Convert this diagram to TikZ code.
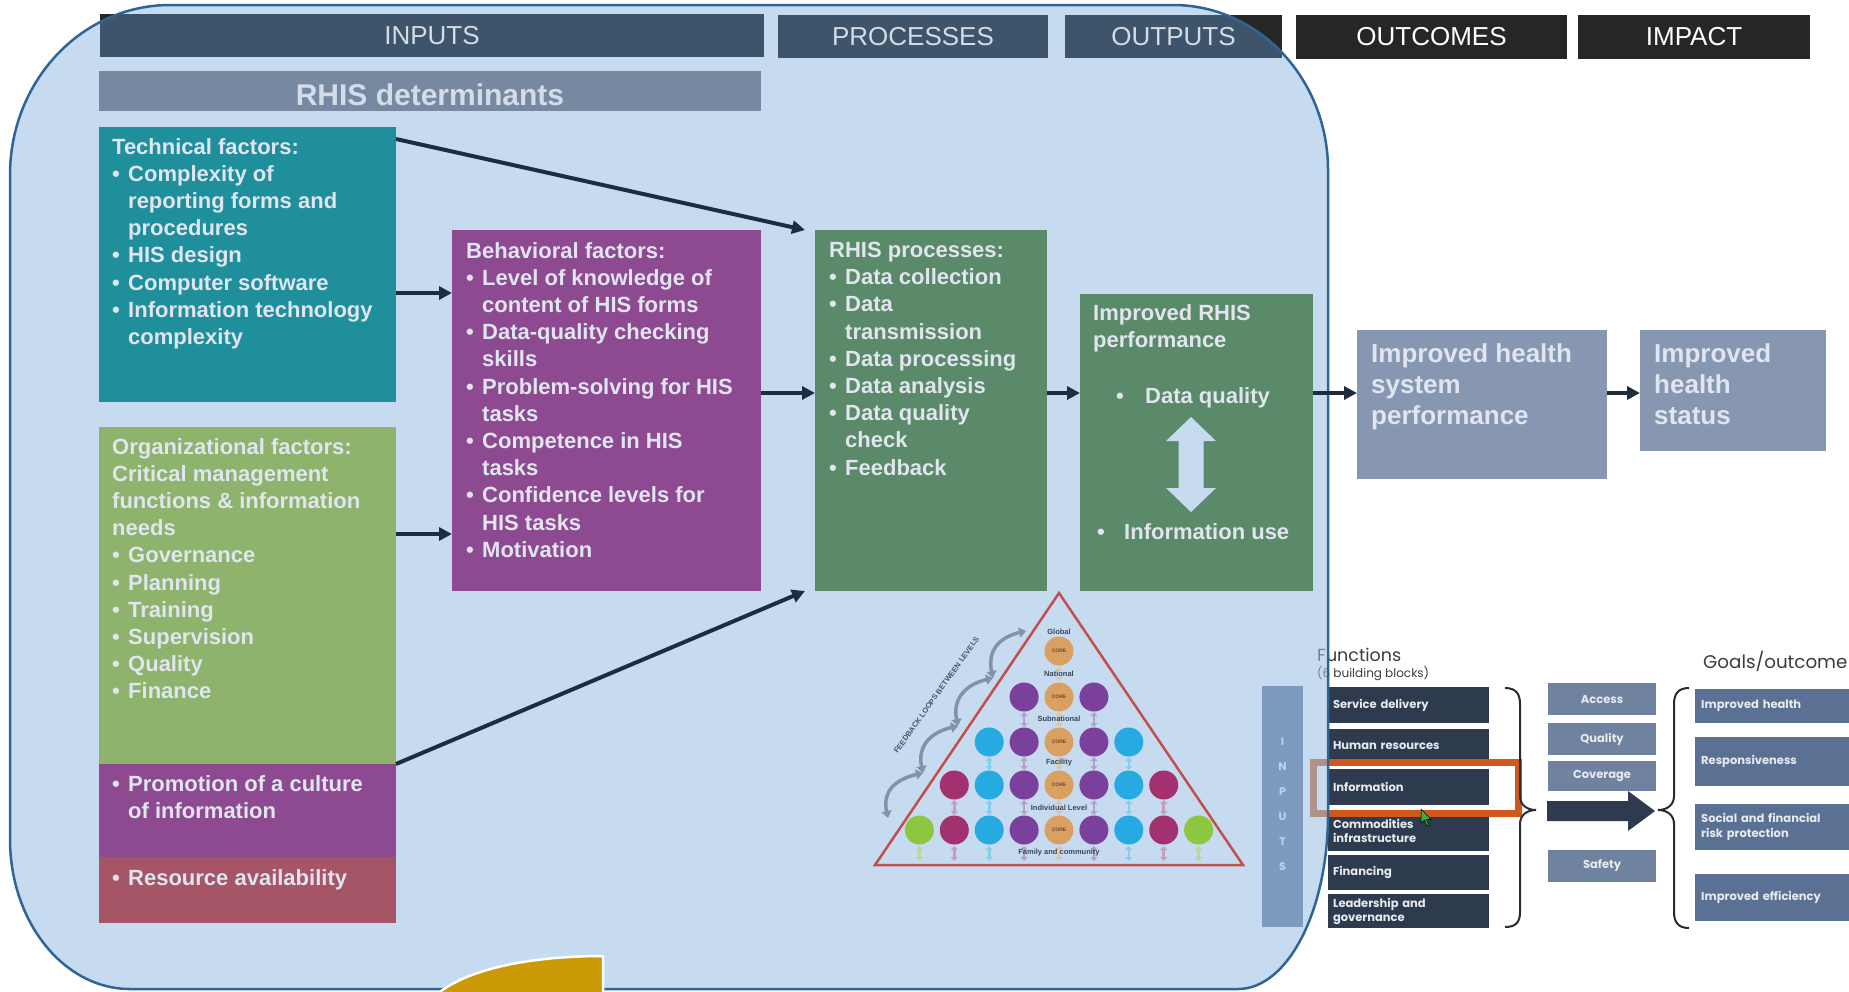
\documentclass[tikz,border=0pt]{standalone}
\usepackage{fontspec}
\setmainfont{Liberation Sans}
\newfontfamily\gothic{Poppins}
\usetikzlibrary{arrows.meta}

\definecolor{tintblue}{HTML}{99BFE4}
\definecolor{frameedge}{HTML}{2F6497}
\definecolor{hdrslate}{HTML}{3E546A}
\definecolor{hdrblack}{HTML}{262626}
\definecolor{hdrtext}{HTML}{D4DBE4}
\definecolor{detbar}{HTML}{7789A1}
\definecolor{detext}{HTML}{D3DDEA}
\definecolor{cTeal}{HTML}{1F8F9C}
\definecolor{cOrg}{HTML}{8DB36C}
\definecolor{cPurple}{HTML}{8E4A91}
\definecolor{cRose}{HTML}{A55566}
\definecolor{cProc}{HTML}{5A8A69}
\definecolor{cOut}{HTML}{8797B1}
\definecolor{boxtext}{HTML}{E0E5F0}
\definecolor{arrnavy}{HTML}{1E2D3E}
\definecolor{paleblue}{HTML}{C6DBEF}
\definecolor{pyrred}{HTML}{C0504D}
\definecolor{pyrlabel}{HTML}{3A4656}
\definecolor{corebrown}{HTML}{6B4A2A}
\definecolor{cCore}{HTML}{D9A062}
\definecolor{cViolet}{HTML}{7B3F9C}
\definecolor{cSky}{HTML}{27A9E1}
\definecolor{cMagenta}{HTML}{A3306F}
\definecolor{cLime}{HTML}{8DC63F}
\definecolor{pCore}{HTML}{E3C49C}
\definecolor{pViolet}{HTML}{B89DCC}
\definecolor{pSky}{HTML}{86CDEE}
\definecolor{pMagenta}{HTML}{C79DBB}
\definecolor{pLime}{HTML}{B7DA92}
\definecolor{loopgray}{HTML}{8193A5}
\definecolor{looptext}{HTML}{4A5560}
\definecolor{gold}{HTML}{CC9A06}
\definecolor{whonavy}{HTML}{2E3A4E}
\definecolor{whomid}{HTML}{6F829F}
\definecolor{whoslate}{HTML}{5B7194}
\definecolor{whotext}{HTML}{E8EAF0}
\definecolor{whodark}{HTML}{3C3C3C}
\definecolor{bracegray}{HTML}{2B2B2B}
\definecolor{hiorange}{HTML}{D0581A}
\definecolor{cursorgreen}{HTML}{3CB043}

\newcommand\itemdot{\makebox[16pt][l]{\textbullet}}
\newcommand\itemgap{\hspace*{16pt}}
% outline of the shaded RHIS frame (y grows downwards)
\newcommand\rhisframe{(10,175) arc[start angle=180,end angle=270,x radius=160,y radius=170]
  -- (1173,5) arc[start angle=270,end angle=360,x radius=155,y radius=165]
  -- (1328,814) arc[start angle=0,end angle=90,x radius=90,y radius=175]
  -- (130,989) arc[start angle=90,end angle=180,x radius=120,y radius=150] -- cycle}

\begin{document}
\begin{tikzpicture}[x=1pt,y=-1pt,
  box/.style={anchor=north west, inner sep=0pt, outer sep=0pt, draw=none},
  txt/.style={anchor=north west, inner sep=0pt, align=left, text=boxtext,
    font=\fontsize{22}{27.2}\selectfont\bfseries},
  bigtxt/.style={anchor=north west, inner sep=0pt, align=left, text=boxtext,
    font=\fontsize{26}{31}\selectfont\bfseries},
  hdr/.style={inner sep=0pt, outer sep=0pt, font=\fontsize{26}{30}\selectfont},
  arr/.style={draw=arrnavy, line width=4pt, -{Triangle[length=13pt,width=13pt]}},
  parr/.style={line width=2.6pt, {Triangle[length=4pt,width=7pt]}-{Triangle[length=4pt,width=7pt]}},
  fbloop/.style={draw=loopgray, line width=3.5pt, {Triangle[length=7pt,width=10pt]}-{Triangle[length=7pt,width=10pt]}},
  plabel/.style={inner sep=0.5pt, text=pyrlabel, font=\fontsize{7.5}{8}\selectfont\bfseries},
  fbox/.style={anchor=north west, fill=whonavy, text=whotext, inner xsep=5pt, inner ysep=0pt,
    outer sep=0pt, text width=151pt, align=left, font=\gothic\bfseries\fontsize{11.5}{14}\selectfont},
  abox/.style={fill=whomid, text=whotext, inner sep=0pt, minimum width=108pt,
    font=\gothic\bfseries\fontsize{11.5}{13}\selectfont},
  gbox/.style={anchor=north west, fill=whoslate, text=whotext, inner xsep=6pt, inner ysep=0pt,
    text width=148pt, align=left, font=\gothic\bfseries\fontsize{11.5}{15}\selectfont}]

\useasboundingbox (0,0) rectangle (1849,991);
\fill[white] (0,0) rectangle (1849,991);

% ---------- column headers (dark layer) ----------
\fill[hdrblack] (100,14) rectangle (764,57);
\fill[hdrblack] (778,15) rectangle (1048,58);
\fill[hdrblack] (1065,15) rectangle (1282,58);
\node[hdr, fill=hdrblack, text=white, minimum width=271pt, minimum height=44pt] (hOutcomes) at (1431.5,37) {OUTCOMES};
\node[hdr, fill=hdrblack, text=white, minimum width=232pt, minimum height=44pt] (hImpact) at (1694,37) {IMPACT};

% ---------- health system building blocks ----------
\begin{scope}
\clip (0,0) rectangle (1849,991);
\node[box, fill=whoslate, minimum width=41pt, minimum height=241pt] (wIn) at (1262,686) {};
\node[anchor=north, inner sep=0pt, align=center, text=whotext,
  font=\gothic\bfseries\fontsize{11}{25}\selectfont] (wInT) at (1282.5,738) {I\\N\\P\\U\\T\\S};
\node[anchor=base west, inner sep=0pt, text=whodark, font=\gothic\fontsize{17.5}{18}\selectfont] (wFn) at (1317,661) {Functions};
\node[anchor=base west, inner sep=0pt, text=whodark, font=\gothic\fontsize{12}{12}\selectfont] (wFnSub) at (1317,677) {(6 building blocks)};
\node[anchor=base west, inner sep=0pt, text=whodark, font=\gothic\fontsize{18.3}{20}\selectfont] (wGoal) at (1703,668) {Goals/outcome};

\node[fbox, minimum height=36pt] (fServ) at (1328,687) {Service delivery};
\node[fbox, minimum height=33pt] (fHum) at (1328,729) {Human resources};
\node[fbox, minimum height=36pt] (fInf) at (1328,769) {Information};
\node[fbox, minimum height=40pt] (fCom) at (1328,811) {Commodities\\infrastructure};
\node[fbox, minimum height=35pt] (fFin) at (1328,855) {Financing};
\node[fbox, minimum height=34pt] (fLead) at (1328,894) {Leadership and\\governance};

\draw[hiorange, line width=7pt] (1313,762) rectangle (1518,813);
\filldraw[fill=cursorgreen, draw=black, line width=0.5pt] (1421,809) -- (1421,823) -- (1424.5,820)
  -- (1427,826) -- (1429,825) -- (1426.5,819.5) -- (1431,819.5) -- cycle;

\draw[bracegray, line width=2pt] (1505,688) .. controls (1516,688) and (1520,694) .. (1520,704)
  -- (1520,796) .. controls (1520,805) and (1527,810) .. (1536,810)
  .. controls (1527,810) and (1520,815) .. (1520,824)
  -- (1520,912) .. controls (1520,922) and (1516,927) .. (1505,927);

\node[abox, minimum height=32pt] (gAcc) at (1602,699) {Access};
\node[abox, minimum height=32pt] (gQua) at (1602,739) {Quality};
\node[abox, minimum height=30pt] (gCov) at (1602,776) {Coverage};
\node[abox, minimum height=32pt] (gSaf) at (1602,866) {Safety};

\fill[whonavy] (1547,801) -- (1628,801) -- (1628,791) -- (1655,811) -- (1628,831) -- (1628,821) -- (1547,821) -- cycle;

\draw[bracegray, line width=2pt] (1689,688) .. controls (1678,688) and (1674,694) .. (1674,704)
  -- (1674,796) .. controls (1674,805) and (1667,810) .. (1658,810)
  .. controls (1667,810) and (1674,815) .. (1674,824)
  -- (1674,912) .. controls (1674,922) and (1678,928) .. (1689,928);

\node[gbox, minimum height=34pt] (oHealth) at (1695,689) {Improved health};
\node[gbox, minimum height=49pt] (oResp) at (1695,737) {Responsiveness};
\node[gbox, minimum height=46pt] (oRisk) at (1695,804) {Social and financial\\risk protection};
\node[gbox, minimum height=47pt] (oEff) at (1695,874) {Improved efficiency};
\end{scope}

% ---------- shaded RHIS frame ----------
\fill[tintblue, fill opacity=0.55] \rhisframe;
\begin{scope}
\clip \rhisframe;
\node[hdr, fill=hdrslate, text=hdrtext, minimum width=664pt, minimum height=43pt] (hInputs) at (432,35.5) {INPUTS};
\node[hdr, fill=hdrslate, text=hdrtext, minimum width=270pt, minimum height=43pt] (hProc) at (913,36.5) {PROCESSES};
\node[hdr, fill=hdrslate, text=hdrtext, minimum width=217pt, minimum height=43pt] (hOutputs) at (1173.5,36.5) {OUTPUTS};
\end{scope}
\draw[frameedge, line width=2.5pt] \rhisframe;

% ---------- determinants ----------
\node[box, fill=detbar, minimum width=662pt, minimum height=40pt] (det) at (99,71) {};
\node[text=detext, inner sep=0pt, font=\fontsize{30}{30}\selectfont\bfseries] (detT) at ([yshift=-4pt]det.center) {RHIS determinants};

\node[box, fill=cTeal, minimum width=297pt, minimum height=275pt] (tech) at (99,127) {};
\node[txt] (techT) at (112,138) {Technical factors:\\\itemdot Complexity of\\\itemgap reporting forms and\\\itemgap procedures\\\itemdot HIS design\\\itemdot Computer software\\\itemdot Information technology\\\itemgap complexity};

\node[box, fill=cOrg, minimum width=297pt, minimum height=337pt] (org) at (99,427) {};
\node[txt] (orgT) at (112,438) {Organizational factors:\\Critical management\\functions \& information\\needs\\\itemdot Governance\\\itemdot Planning\\\itemdot Training\\\itemdot Supervision\\\itemdot Quality\\\itemdot Finance};

\node[box, fill=cPurple, minimum width=297pt, minimum height=93pt] (promo) at (99,764) {};
\node[txt] (promoT) at (112,775) {\itemdot Promotion of a culture\\\itemgap of information};

\node[box, fill=cRose, minimum width=297pt, minimum height=66pt] (res) at (99,857) {};
\node[txt] (resT) at (112,869) {\itemdot Resource availability};

\node[box, fill=cPurple, minimum width=309pt, minimum height=361pt] (behav) at (452,230) {};
\node[txt] (behavT) at (466,242) {Behavioral factors:\\\itemdot Level of knowledge of\\\itemgap content of HIS forms\\\itemdot Data-quality checking\\\itemgap skills\\\itemdot Problem-solving for HIS\\\itemgap tasks\\\itemdot Competence in HIS\\\itemgap tasks\\\itemdot Confidence levels for\\\itemgap HIS tasks\\\itemdot Motivation};

% ---------- processes and outputs ----------
\node[box, fill=cProc, minimum width=232pt, minimum height=361pt] (proc) at (815,230) {};
\node[txt] (procT) at (829,242) {RHIS processes:\\\itemdot Data collection\\\itemdot Data\\\itemgap transmission\\\itemdot Data processing\\\itemdot Data analysis\\\itemdot Data quality\\\itemgap check\\\itemdot Feedback};

\node[box, fill=cProc, minimum width=233pt, minimum height=297pt] (perf) at (1080,294) {};
\node[txt] (perfT) at (1093,304) {Improved RHIS\\performance};
\node[txt] (perfQ) at (1116,387) {\makebox[29pt][l]{\textbullet}Data quality};
\node[txt] (perfU) at (1097,523) {\makebox[27pt][l]{\textbullet}Information use};
\fill[paleblue] (1191,417) -- (1216,441) -- (1203.5,441) -- (1203.5,488) -- (1216,488) -- (1191,512)
  -- (1166,488) -- (1178.5,488) -- (1178.5,441) -- (1166,441) -- cycle;

% ---------- outcomes and impact ----------
\node[box, fill=cOut, minimum width=250pt, minimum height=149pt] (hsp) at (1357,330) {};
\node[bigtxt] (hspT) at (1371,343.5) {Improved health\\system\\performance};
\node[box, fill=cOut, minimum width=186pt, minimum height=121pt] (hst) at (1640,330) {};
\node[bigtxt] (hstT) at (1654,343.5) {Improved\\health\\status};

% ---------- connectors ----------
\coordinate (yA) at (0,293);
\coordinate (yB) at (0,534);
\coordinate (yC) at (0,393);
\draw[arr] (tech.east |- yA) -- (behav.west |- yA);
\draw[arr] (org.east |- yB) -- (behav.west |- yB);
\draw[arr] (behav.east |- yC) -- (proc.west |- yC);
\draw[arr] (proc.east |- yC) -- (perf.west |- yC);
\draw[arr] (perf.east |- yC) -- (hsp.west |- yC);
\draw[arr] (hsp.east |- yC) -- (hst.west |- yC);
\draw[arr] ([yshift=-12pt]tech.north east) -- ([xshift=-10pt]proc.north west);
\draw[arr] (promo.north east) -- ([xshift=-10pt]proc.south west);

% ---------- levels pyramid ----------
\draw[pyrred, line width=2.5pt, line join=miter] (1059,593) -- (875,865) -- (1243,865) -- cycle;

\foreach \k/\c in {0/pCore} \draw[parr, \c] (1059+34.9*\k,667) -- (1059+34.9*\k,681);
\foreach \k/\c in {-1/pViolet,0/pCore,1/pViolet} \draw[parr, \c] (1059+34.9*\k,712) -- (1059+34.9*\k,727);
\foreach \k/\c in {-2/pSky,-1/pViolet,0/pCore,1/pViolet,2/pSky} \draw[parr, \c] (1059+34.9*\k,757) -- (1059+34.9*\k,770);
\foreach \k/\c in {-3/pMagenta,-2/pSky,-1/pViolet,0/pCore,1/pViolet,2/pSky,3/pMagenta} \draw[parr, \c] (1059+34.9*\k,800) -- (1059+34.9*\k,815);
\foreach \k/\c in {-4/pLime,-3/pMagenta,-2/pSky,-1/pViolet,0/pCore,1/pViolet,2/pSky,3/pMagenta,4/pLime} \draw[parr, \c] (1059+34.9*\k,846) -- (1059+34.9*\k,861);

\foreach \k/\c in {-1/cViolet,1/cViolet} \fill[\c] (1059+34.9*\k,697) circle[radius=14.5];
\foreach \k/\c in {-2/cSky,-1/cViolet,1/cViolet,2/cSky} \fill[\c] (1059+34.9*\k,742) circle[radius=14.5];
\foreach \k/\c in {-3/cMagenta,-2/cSky,-1/cViolet,1/cViolet,2/cSky,3/cMagenta} \fill[\c] (1059+34.9*\k,785) circle[radius=14.5];
\foreach \k/\c in {-4/cLime,-3/cMagenta,-2/cSky,-1/cViolet,1/cViolet,2/cSky,3/cMagenta,4/cLime} \fill[\c] (1059+34.9*\k,830) circle[radius=14.5];
\foreach \y in {651,697,742,785,830} {
  \fill[cCore] (1059,\y) circle[radius=14.5];
  \node[inner sep=0pt, text=corebrown, font=\fontsize{5}{5}\selectfont\bfseries] (core\y) at (1059,\y) {CORE};
}

\node[plabel] (lvGlobal) at (1059,632) {Global};
\node[plabel, fill=paleblue] (lvNational) at (1059,674) {National};
\node[plabel] (lvSub) at (1059,719) {Subnational};
\node[plabel] (lvFac) at (1059,763) {Facility};
\node[plabel] (lvInd) at (1059,808) {Individual Level};
\node[plabel] (lvFam) at (1059,853) {Family and community};

\foreach \ax/\ay/\bx/\by in {888/818/923/773, 923/773/958/726, 958/726/993/678, 993/678/1026/631}
  \draw[fbloop] (\ax,\ay) .. controls (\ax-6,\ay-28) and (\bx-26,\by+6) .. (\bx,\by);
\node[rotate=54.5, inner sep=0pt, text=looptext, font=\fontsize{7.5}{8}\selectfont\bfseries] (fbText) at (936.5,695) {FEEDBACK LOOPS BETWEEN LEVELS};

% ---------- gold segment at the foot ----------
\filldraw[fill=gold, draw=white, line width=2.5pt] (603,956) -- (603,995) -- (436,995)
  .. controls (470,966) and (540,956) .. (603,956);
\end{tikzpicture}
\end{document}
